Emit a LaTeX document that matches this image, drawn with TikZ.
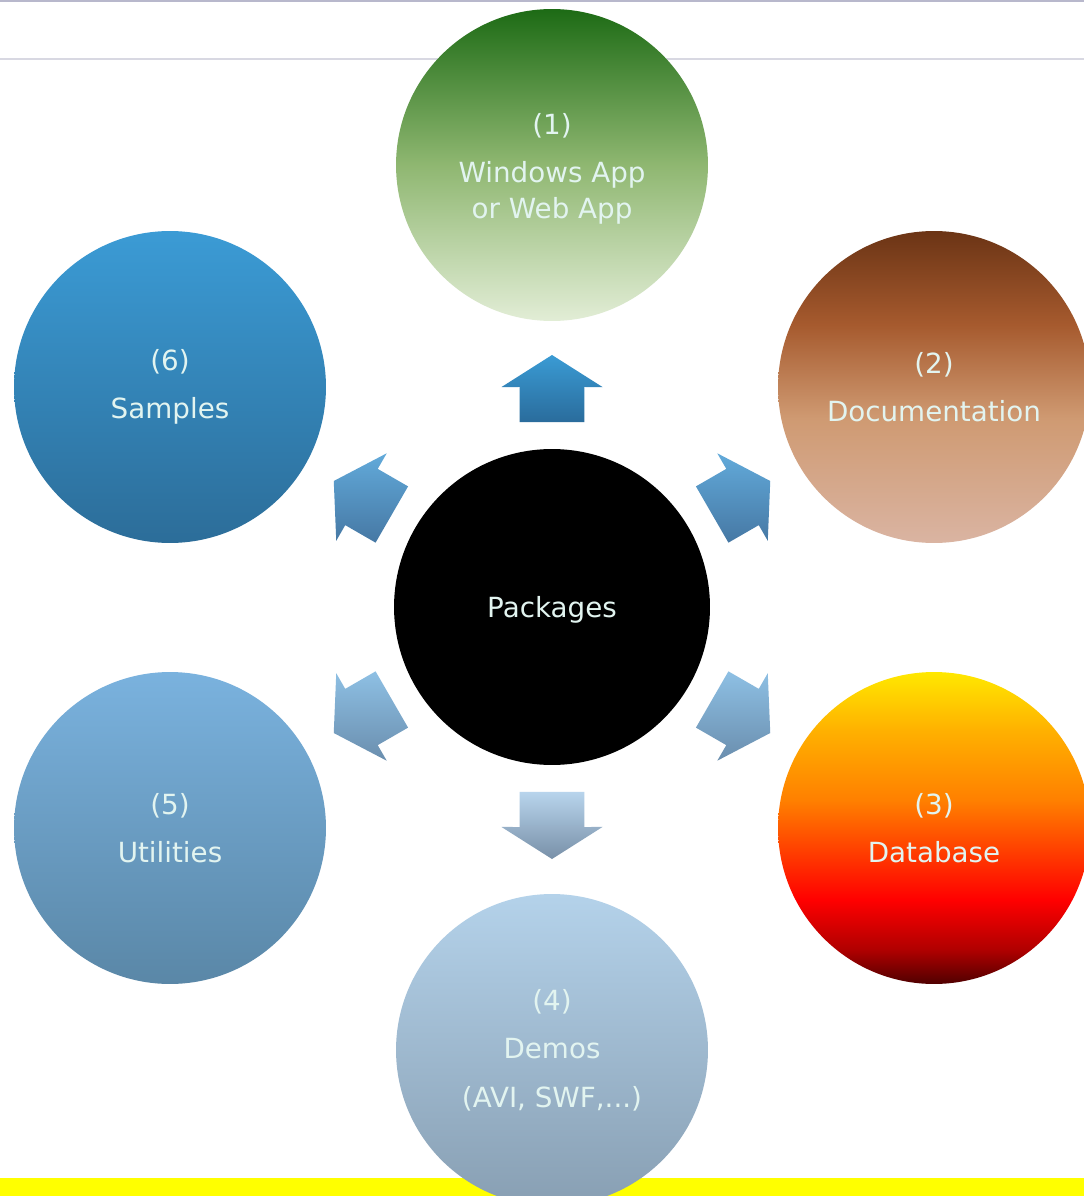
\documentclass[tikz,border=0pt]{standalone}
\usepackage{fontspec}
\setmainfont{DejaVu Sans}
\usetikzlibrary{calc}

\definecolor{labeltext}{HTML}{E2F4F0}
\definecolor{toprule}{HTML}{B8B8CC}
\definecolor{midrule}{HTML}{D8D8E2}
\definecolor{band}{HTML}{FFFF00}

\definecolor{apptop}{HTML}{1D6B15}
\definecolor{appmid}{HTML}{8FB771}
\definecolor{appbot}{HTML}{E2EDD6}
\definecolor{doctop}{HTML}{6B3415}
\definecolor{docmid}{HTML}{A65A2E}
\definecolor{doclow}{HTML}{CF9A72}
\definecolor{docbot}{HTML}{DAB4A2}
\definecolor{demotop}{HTML}{B4D2EA}
\definecolor{demobot}{HTML}{889FB3}
\definecolor{utiltop}{HTML}{7AB2DE}
\definecolor{utilbot}{HTML}{5A87A7}
\definecolor{samptop}{HTML}{3B9BD5}
\definecolor{sampbot}{HTML}{2C6D99}

\definecolor{uptop}{HTML}{3A9BD4}
\definecolor{upbot}{HTML}{2A6C9C}
\definecolor{hightop}{HTML}{62AADA}
\definecolor{highbot}{HTML}{4678A4}
\definecolor{lowtop}{HTML}{8EC0E4}
\definecolor{lowbot}{HTML}{6A8EAE}
\definecolor{downtop}{HTML}{B8D4EC}
\definecolor{downbot}{HTML}{7890A8}

\pgfdeclareverticalshading{appshade}{100bp}{color(0bp)=(appbot); color(25bp)=(appbot); color(50bp)=(appmid); color(75bp)=(apptop); color(100bp)=(apptop)}
\pgfdeclareverticalshading{docshade}{100bp}{color(0bp)=(docbot); color(25bp)=(docbot); color(45bp)=(doclow); color(60bp)=(docmid); color(75bp)=(doctop); color(100bp)=(doctop)}
\pgfdeclareverticalshading{dbshade}{100bp}{color(0bp)=(rgb,255:red,80;green,0;blue,0); color(25bp)=(rgb,255:red,80;green,0;blue,0); color(30.5bp)=(rgb,255:red,176;green,0;blue,0); color(38.5bp)=(rgb,255:red,255;green,0;blue,0); color(46.5bp)=(rgb,255:red,255;green,64;blue,0); color(54.5bp)=(rgb,255:red,255;green,128;blue,0); color(65.5bp)=(rgb,255:red,255;green,176;blue,0); color(75bp)=(rgb,255:red,255;green,232;blue,0); color(100bp)=(rgb,255:red,255;green,232;blue,0)}

% block arrow pointing away from the centre node
\newcommand{\blockarrow}[2]{%
	\shade[top color=#2top, bottom color=#2bot]
		($(pkg)+(#1:252)$) -- ($(pkg)+({#1+12.93}:225.7)$) -- ($(pkg)+({#1+8.4}:222.4)$)
		-- ($(pkg)+({#1+9.96}:187.8)$) -- ($(pkg)+({#1-9.96}:187.8)$)
		-- ($(pkg)+({#1-8.4}:222.4)$) -- ($(pkg)+({#1-12.93}:225.7)$) -- cycle;}

\begin{document}
\begin{tikzpicture}[x=0.02cm, y=-0.02cm,
	bubble/.style={shape=circle, draw=none, minimum size=6.24cm, inner sep=0pt, align=center,
		text=labeltext, font=\fontsize{15.8}{27.5}\selectfont}]
	\clip (0, 0) rectangle (1084, 1196);
	\fill[white] (0, 0) rectangle (1084, 1196);

	% frame lines and bottom band
	\draw[toprule, line width=1.2pt] (0, 1) -- (1084, 1);
	\draw[midrule, line width=1.2pt] (0, 59) -- (1084, 59);
	\fill[band] (0, 1178) rectangle (1084, 1196);

	\node[bubble, shading=appshade] (app) at (552, 165) {};
	\node[bubble, shading=docshade] (docs) at (934, 387) {(2)\\Documentation};
	\node[bubble, shading=dbshade] (db) at (934, 828) {(3)\\Database};
	\node[bubble, top color=demotop, bottom color=demobot] (demos) at (552, 1050) {(4)\\Demos\\(AVI, SWF,...)};
	\node[bubble, top color=utiltop, bottom color=utilbot] (utils) at (170, 828) {(5)\\Utilities};
	\node[bubble, top color=samptop, bottom color=sampbot] (samples) at (170, 387) {(6)\\Samples};
	\node[bubble, fill=black, minimum size=6.32cm] (pkg) at (552, 607) {};

	% labels nudged to sit where the reference prints them
	\node[bubble, minimum size=0pt] (applabel) at (552, 169) {(1)\\Windows App\\[-7pt]or Web App};
	\node[bubble, minimum size=0pt] (pkglabel) at (552, 610) {Packages};

	\blockarrow{270}{up}
	\blockarrow{330}{high}
	\blockarrow{210}{high}
	\blockarrow{30}{low}
	\blockarrow{150}{low}
	\blockarrow{90}{down}
\end{tikzpicture}
\end{document}
